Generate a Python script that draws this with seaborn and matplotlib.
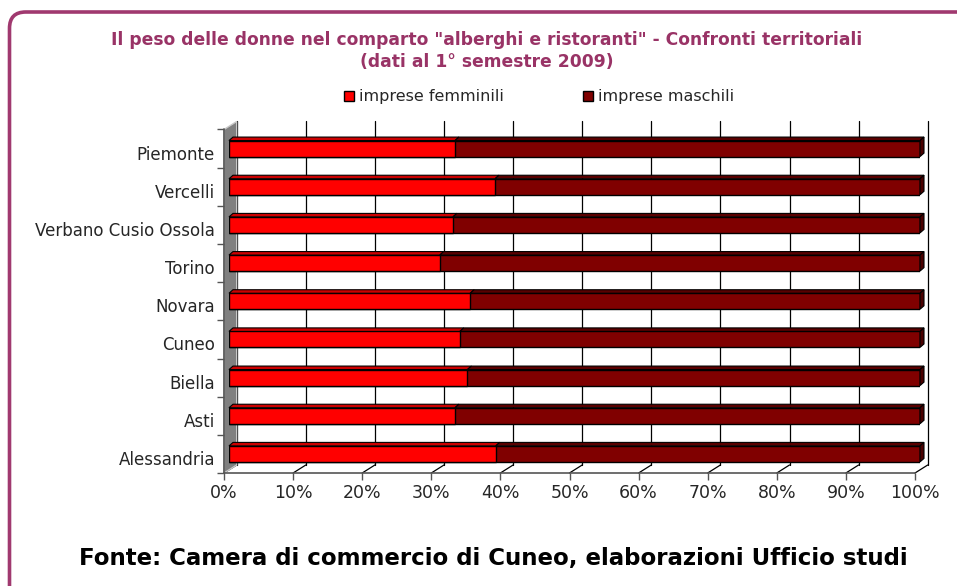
import numpy as np
import pandas as pd
import matplotlib
matplotlib.use("Agg")
import matplotlib.pyplot as plt
import matplotlib.transforms as mtransforms
from matplotlib.patches import FancyBboxPatch, Polygon, Patch
import seaborn as sns

# dati (quota % imprese femminili)
province = ["Piemonte", "Vercelli", "Verbano Cusio Ossola", "Torino", "Novara",
            "Cuneo", "Biella", "Asti", "Alessandria"]
femminili = [32.7, 38.5, 32.4, 30.5, 34.9, 33.4, 34.5, 32.7, 38.6]
maschili = [100 - f for f in femminili]
xticks = [0, 10, 20, 30, 40, 50, 60, 70, 80, 90, 100]

df = pd.DataFrame({"provincia": province, "femminili": femminili, "maschili": maschili})
df["totale"] = df["femminili"] + df["maschili"]

sns.set_style("white")
plt.rcParams["font.family"] = ["DejaVu Sans"]

DPI = 100
fig = plt.figure(figsize=(9.57, 5.86), dpi=DPI)
W, H = 957, 586
ax = fig.add_axes([229 / W, 1 - 473 / H, (920 - 229) / W, (473 - 129.5) / H])

purple = "#993366"
red = "#ff0000"
dark = "#800000"

# cornice arrotondata
frame = FancyBboxPatch((9.5 / W, -0.1), 1.1, 1.1 - 12 / H,
                       boxstyle="round,pad=0,rounding_size=0.017",
                       transform=fig.transFigure, fill=False,
                       edgecolor="#a0396f", linewidth=2.6, clip_on=False,
                       mutation_aspect=W / H)
fig.patches.append(frame)

bh = 0.42
# piani "3d": fronte, barre (piano degli assi), fondo
front = mtransforms.offset_copy(ax.transData, fig=fig, x=-5, y=0, units="dots")
back = mtransforms.offset_copy(ax.transData, fig=fig, x=7.7, y=8, units="dots")

ax.set_xlim(0, 100)
ax.set_ylim(len(province) - 0.5, -0.5)
ybot, ytop = len(province) - 0.5, -0.5

# griglia sul fondo + diagonali sul pavimento
for t in xticks:
    ax.plot([t, t], [ybot, ytop], transform=back, color="black",
            lw=0.9, zorder=0, clip_on=False)
    p0 = back.transform((t, ybot))
    p1 = front.transform((t, ybot))
    ax.plot([p0[0], p1[0]], [p0[1], p1[1]], transform=None, color="black",
            lw=0.9, zorder=0, clip_on=False)

# parete sinistra grigia
pts = [front.transform((0, ybot)), front.transform((0, ytop)),
       back.transform((0, ytop)), back.transform((0, ybot))]
ax.add_patch(Polygon(pts, closed=True, transform=None, facecolor="#808080",
                     edgecolor="#c8c8c8", lw=1, zorder=1, clip_on=False))

# barre impilate
sns.barplot(data=df, x="totale", y="provincia", orient="h", color=dark,
            saturation=1, width=bh, edgecolor="black", linewidth=1, ax=ax, zorder=3)
sns.barplot(data=df, x="femminili", y="provincia", orient="h", color=red,
            saturation=1, width=bh, edgecolor="black", linewidth=1, ax=ax, zorder=4)

# facce superiori e laterali (profondita')
depth = mtransforms.offset_copy(ax.transData, fig=fig, x=4, y=3.5, units="dots")
for i in range(len(province)):
    yt = i - bh / 2
    yb = i + bh / 2
    f = femminili[i]
    for x0, x1, c in [(0, f, "#cc0000"), (f, 100, "#5a0000")]:
        q = [ax.transData.transform((x0, yt)), ax.transData.transform((x1, yt)),
             depth.transform((x1, yt)), depth.transform((x0, yt))]
        ax.add_patch(Polygon(q, closed=True, transform=None, facecolor=c,
                             edgecolor="black", lw=0.8, zorder=5, clip_on=False))
    q = [ax.transData.transform((100, yt)), ax.transData.transform((100, yb)),
         depth.transform((100, yb)), depth.transform((100, yt))]
    ax.add_patch(Polygon(q, closed=True, transform=None, facecolor="#4a0000",
                         edgecolor="black", lw=0.8, zorder=5, clip_on=False))

for s in ax.spines.values():
    s.set_visible(False)
# assi frontali
ax.plot([0, 0], [ybot, ytop], transform=front, color="#555555", lw=1.2, clip_on=False, zorder=2)
ax.plot([0, 100], [ybot, ybot], transform=front, color="#555555", lw=1.2, clip_on=False, zorder=2)
for t in xticks:
    ax.plot([t], [ybot], transform=front, marker=3, ms=5,
            color="#555555", clip_on=False, zorder=2)
for b in np.arange(-0.5, len(province), 1.0):
    ax.plot([0], [b], transform=front, marker=0, ms=5,
            color="#555555", clip_on=False, zorder=2)

ax.set_xticks(xticks)
ax.set_xticklabels([f"{t}%" for t in xticks], fontsize=12.5)
ax.tick_params(axis="both", length=0, pad=8)
ax.tick_params(axis="y", labelsize=12, pad=10)
shift = mtransforms.ScaledTranslation(-5 / DPI, 0, fig.dpi_scale_trans)
for lab in ax.get_xticklabels():
    lab.set_transform(lab.get_transform() + shift)
shift_y = mtransforms.ScaledTranslation(0, -4 / DPI, fig.dpi_scale_trans)
for lab in ax.get_yticklabels():
    lab.set_transform(lab.get_transform() + shift_y)
ax.set_xlabel("")
ax.set_ylabel("")
ax.grid(False)

fig.text(487 / W, 1 - 40 / H, "Il peso delle donne nel comparto \"alberghi e ristoranti\" - Confronti territoriali",
         ha="center", va="center", color=purple, fontsize=12.3, fontweight="bold")
fig.text(487 / W, 1 - 62 / H, "(dati al 1° semestre 2009)",
         ha="center", va="center", color=purple, fontsize=12.3, fontweight="bold")

handles = [Patch(facecolor=red, edgecolor="black", label="imprese femminili"),
           Patch(facecolor=dark, edgecolor="black", label="imprese maschili")]
fig.legend(handles=handles, loc="center", bbox_to_anchor=(539 / W, 1 - 97 / H), ncol=2,
           frameon=False, fontsize=11.5, handlelength=0.6, handleheight=0.6,
           handletextpad=0.3, columnspacing=5.0)

fig.text(493 / W, 1 - 559 / H, "Fonte: Camera di commercio di Cuneo, elaborazioni Ufficio studi",
         ha="center", va="center", color="black", fontsize=16.5, fontweight="bold")

fig.savefig("out.png", dpi=DPI)
